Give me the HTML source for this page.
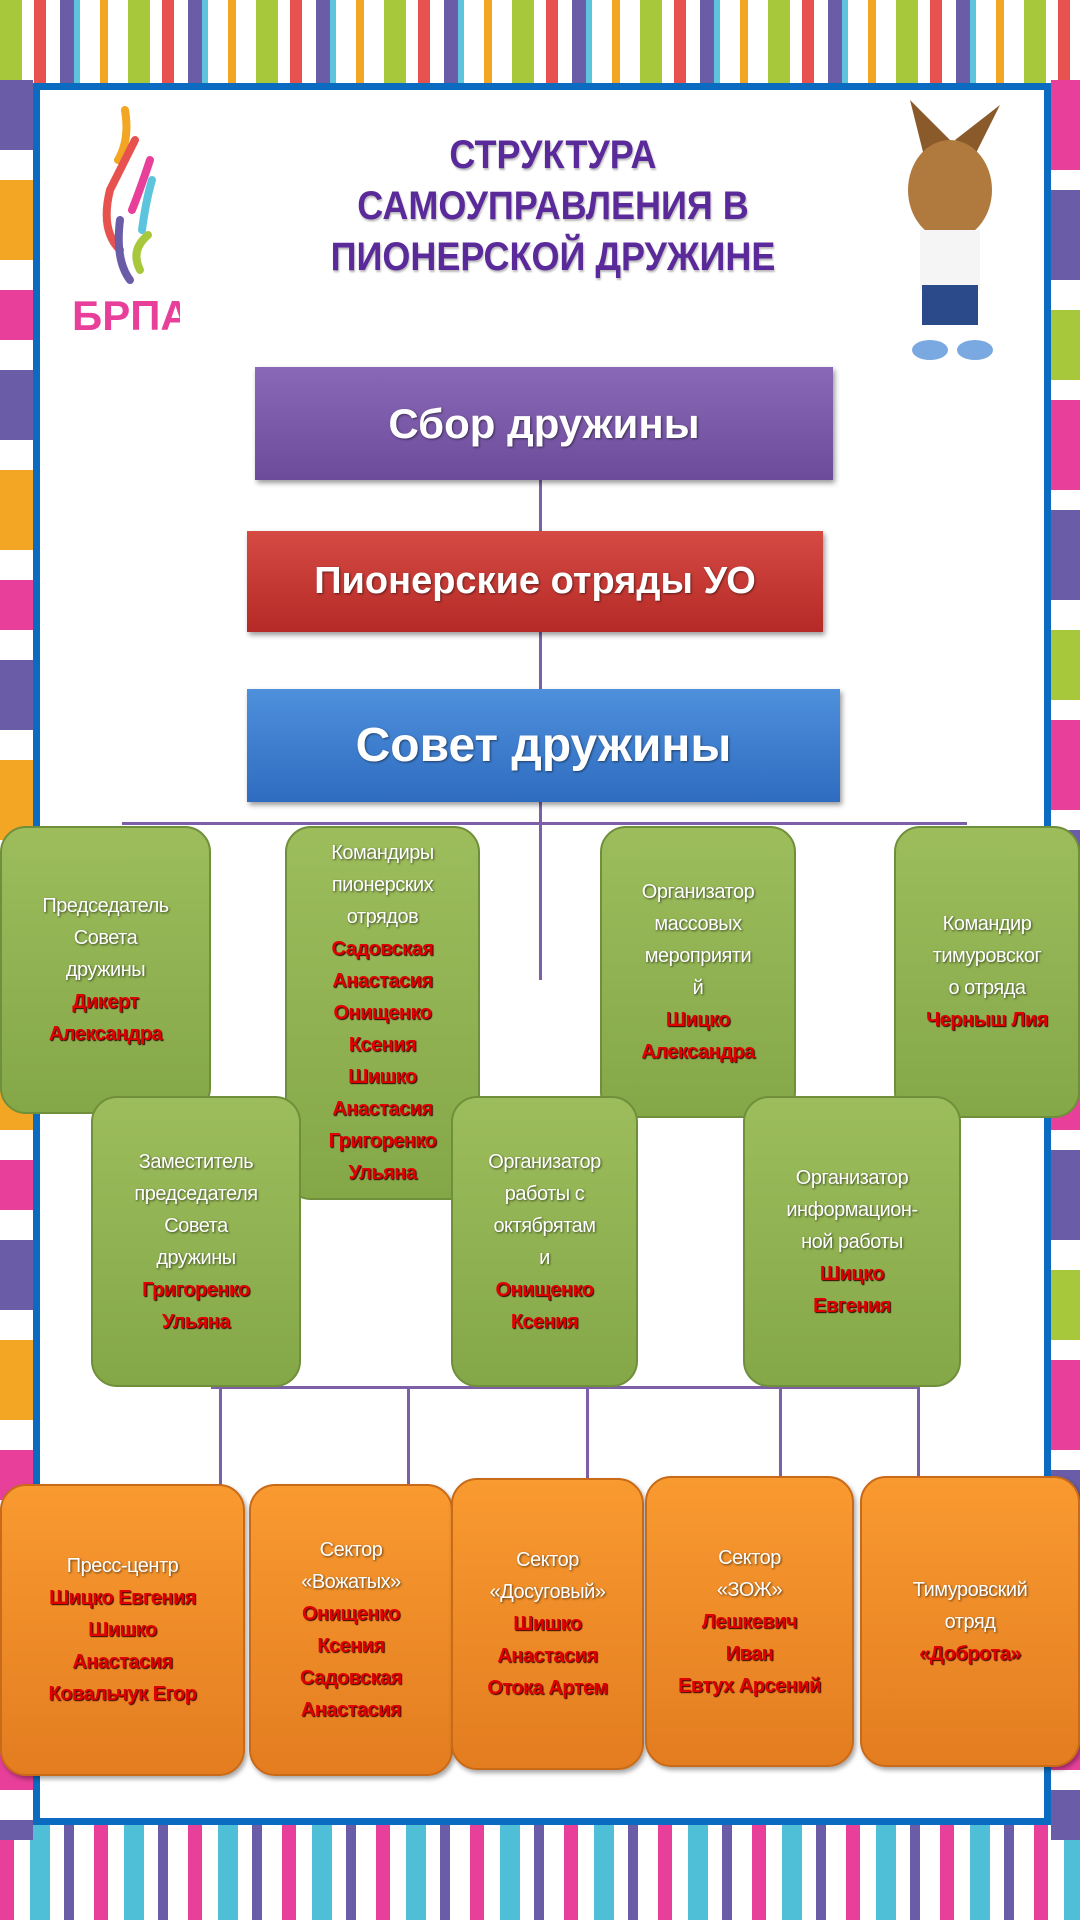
<!DOCTYPE html>
<html><head><meta charset="utf-8"><style>
*{margin:0;padding:0;box-sizing:border-box}
body{width:1080px;height:1920px;position:relative;background:#fff;overflow:hidden;font-family:"Liberation Sans",sans-serif}
.band{position:absolute;left:0;width:1080px}
.frame{position:absolute;left:33px;top:83px;width:1018px;height:1742px;border:7px solid #0a6bc0;background:#fff}
.title{position:absolute;left:253px;width:600px;top:130px;text-align:center;color:#5a2a9a;font-weight:bold;font-size:40px;line-height:51px;text-shadow:1px 2px 2px #bbb;transform:scaleX(.9)}
.bar{position:absolute;color:#fff;font-weight:bold;text-align:center;display:flex;align-items:center;justify-content:center;box-shadow:2px 3px 5px rgba(0,0,0,.4);text-shadow:1px 1px 2px rgba(0,0,0,.5)}
.ln{position:absolute;background:#7d5fa8}
.box{position:absolute;border-radius:26px;display:flex;flex-direction:column;align-items:center;justify-content:center;text-align:center;font-size:20px;line-height:32px;color:#fff;text-shadow:1px 1px 2px rgba(0,0,0,.6);white-space:nowrap;letter-spacing:-0.5px}
.g{background:linear-gradient(#9dbd5c,#84a748);border:2px solid #6f8f3a}
.o{background:linear-gradient(#f99a30,#e37d20);border:2px solid #c86a18;box-shadow:2px 3px 5px rgba(0,0,0,.35)}
.box b{color:#e00000;text-shadow:1px 1px 1px #300}
</style></head><body>
<div class="band" style="top:0;height:90px;background:repeating-linear-gradient(90deg,#a8c83c 0 22px,#fff 22px 34px,#e8524e 34px 46px,#fff 46px 60px,#6b5ca8 60px 74px,#5cc4dc 74px 80px,#fff 80px 100px,#f2a623 100px 108px,#fff 108px 128px)"></div>
<div class="band" style="top:1820px;height:100px;background:repeating-linear-gradient(90deg,#e8409a 0 14px,#fff 14px 30px,#4fbfd8 30px 50px,#fff 50px 64px,#6b5ca8 64px 74px,#fff 74px 94px)"></div>
<div style="position:absolute;left:0;top:80px;width:33px;height:1760px;background:repeating-linear-gradient(180deg,#6b5ca8 0 70px,#fff 70px 100px,#f2a623 100px 180px,#fff 180px 210px,#e8409a 210px 260px,#fff 260px 290px)"></div>
<div style="position:absolute;left:1051px;top:80px;width:29px;height:1760px;background:repeating-linear-gradient(180deg,#e8409a 0 90px,#fff 90px 110px,#6b5ca8 110px 200px,#fff 200px 230px,#a8c83c 230px 300px,#fff 300px 320px)"></div>
<div class="frame"></div>
<svg style="position:absolute;left:70px;top:100px" width="110" height="240"><g fill="none" stroke-width="8" stroke-linecap="round"><path d="M55 10 Q60 40 48 60" stroke="#f2a623"/><path d="M65 40 Q50 70 40 90 Q30 130 50 150" stroke="#e8524e"/><path d="M80 60 Q70 90 62 110" stroke="#e8409a"/><path d="M82 80 Q76 100 72 130" stroke="#5cc4dc"/><path d="M50 120 Q45 160 60 180" stroke="#6b5ca8"/><path d="M78 135 Q60 150 70 170" stroke="#a8c83c"/></g><text x="2" y="230" font-family="Liberation Sans" font-weight="bold" font-size="42" fill="#e8409a">БРПА</text></svg>
<svg style="position:absolute;left:880px;top:100px" width="140" height="270"><polygon points="30,0 45,60 70,40" fill="#8a5a2a"/><polygon points="120,5 95,55 75,40" fill="#8a5a2a"/><ellipse cx="70" cy="90" rx="42" ry="50" fill="#b07a3e"/><rect x="40" y="130" width="60" height="60" fill="#f5f5f5"/><rect x="42" y="185" width="56" height="40" fill="#2a4a8a"/><ellipse cx="50" cy="250" rx="18" ry="10" fill="#7aa8e0"/><ellipse cx="95" cy="250" rx="18" ry="10" fill="#7aa8e0"/></svg>
<div class="title">СТРУКТУРА<br>САМОУПРАВЛЕНИЯ В<br>ПИОНЕРСКОЙ ДРУЖИНЕ</div>
<div class="ln" style="left:539px;top:480px;width:3px;height:500px"></div>
<div class="ln" style="left:122px;top:822px;width:845px;height:3px"></div>
<div class="ln" style="left:211px;top:1386px;width:708px;height:3px"></div>
<div class="ln" style="left:219px;top:1386px;width:3px;height:102px"></div>
<div class="ln" style="left:407px;top:1386px;width:3px;height:102px"></div>
<div class="ln" style="left:586px;top:1386px;width:3px;height:96px"></div>
<div class="ln" style="left:779px;top:1386px;width:3px;height:94px"></div>
<div class="ln" style="left:917px;top:1386px;width:3px;height:94px"></div>
<div class="bar" style="left:255px;top:367px;width:578px;height:113px;background:linear-gradient(#8a68b8,#6c4c9a);font-size:42px">Сбор дружины</div>
<div class="bar" style="left:247px;top:531px;width:576px;height:101px;background:linear-gradient(#d64a44,#b52a26);font-size:38px">Пионерские отряды УО</div>
<div class="bar" style="left:247px;top:689px;width:593px;height:113px;background:linear-gradient(#4e90dc,#2f6cc0);font-size:48px">Совет дружины</div>
<div class="box g" style="left:0;top:826px;width:211px;height:288px">Председатель<br>Совета<br>дружины<b>Дикерт<br>Александра</b></div>
<div class="box g" style="left:285px;top:826px;width:195px;height:374px">Командиры<br>пионерских<br>отрядов<b>Садовская<br>Анастасия<br>Онищенко<br>Ксения<br>Шишко<br>Анастасия<br>Григоренко<br>Ульяна</b></div>
<div class="box g" style="left:600px;top:826px;width:196px;height:292px">Организатор<br>массовых<br>мероприяти<br>й<b>Шицко<br>Александра</b></div>
<div class="box g" style="left:894px;top:826px;width:186px;height:292px">Командир<br>тимуровског<br>о отряда<b>Черныш Лия</b></div>
<div class="box g" style="left:91px;top:1096px;width:210px;height:291px">Заместитель<br>председателя<br>Совета<br>дружины<b>Григоренко<br>Ульяна</b></div>
<div class="box g" style="left:451px;top:1096px;width:187px;height:291px">Организатор<br>работы с<br>октябрятам<br>и<b>Онищенко<br>Ксения</b></div>
<div class="box g" style="left:743px;top:1096px;width:218px;height:291px">Организатор<br>информацион-<br>ной работы<b>Шицко<br>Евгения</b></div>
<div class="box o" style="left:0;top:1484px;width:245px;height:292px">Пресс-центр<b>Шицко Евгения<br>Шишко<br>Анастасия<br>Ковальчук Егор</b></div>
<div class="box o" style="left:249px;top:1484px;width:204px;height:292px">Сектор<br>«Вожатых»<b>Онищенко<br>Ксения<br>Садовская<br>Анастасия</b></div>
<div class="box o" style="left:451px;top:1478px;width:193px;height:292px">Сектор<br>«Досуговый»<b>Шишко<br>Анастасия<br>Отока Артем</b></div>
<div class="box o" style="left:645px;top:1476px;width:209px;height:291px">Сектор<br>«ЗОЖ»<b>Лешкевич<br>Иван<br>Евтух Арсений</b></div>
<div class="box o" style="left:860px;top:1476px;width:220px;height:291px">Тимуровский<br>отряд<b>«Доброта»</b></div>
</body></html>
